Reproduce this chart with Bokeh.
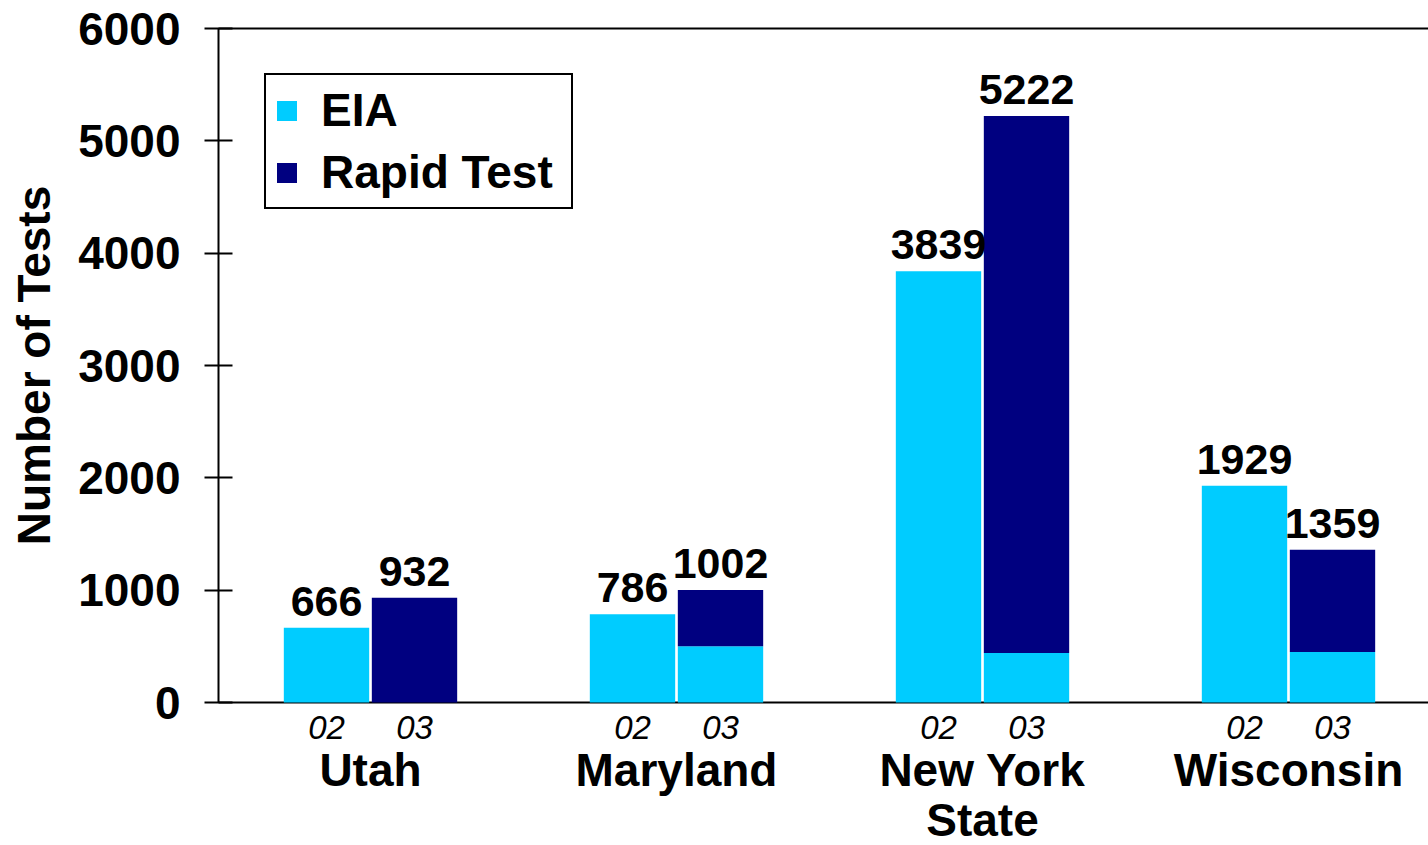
import math
from bokeh.plotting import figure
from bokeh.models import Range1d, Legend, LegendItem, ColumnDataSource, FixedTicker
from bokeh.core.properties import value
from bokeh.embed import file_html
from bokeh.resources import INLINE

# ---- data ----
states = ["Utah", "Maryland", "New York State", "Wisconsin"]
state_lines = [["Utah"], ["Maryland"], ["New York", "State"], ["Wisconsin"]]
years = ["02", "03"]
eia_2002 = [666, 786, 3839, 1929]
eia_2003 = [0, 500, 440, 450]
total_2003 = [932, 1002, 5222, 1359]
rapid_2003 = [t - e for t, e in zip(total_2003, eia_2003)]
y_ticks = [0, 1000, 2000, 3000, 4000, 5000, 6000]
y_max = 6000

LIGHT = "#00CCFF"
NAVY = "#000080"
FONT = "Liberation Sans"

# ---- layout geometry (pixels) ----
W_PX, H_PX = 1428, 845
LEFT, TOP, BOTTOM = 218, 28, 702      # plotting area edges
SLOT = 88.0                            # one bar slot in px
G = 306 / SLOT                         # group pitch in slot units
x_axis = -152 / SLOT                   # data x at the y-axis
ppu = (BOTTOM - TOP) / y_max           # px per unit of y

x_lo = x_axis - LEFT / SLOT
x_hi = x_lo + W_PX / SLOT
y_hi = y_max + TOP / ppu
y_lo = -(H_PX - BOTTOM) / ppu

centers = [i * G for i in range(len(states))]
x02 = [c - 0.5 for c in centers]
x03 = [c + 0.5 for c in centers]

p = figure(width=W_PX, height=H_PX, output_backend="svg", toolbar_location=None,
           x_range=Range1d(x_lo, x_hi), y_range=Range1d(y_lo, y_hi),
           min_border=0)
p.outline_line_color = None
p.xgrid.visible = False
p.ygrid.visible = False
p.xaxis.visible = False

# frame lines (top and bottom)
p.segment(x0=[x_axis, x_axis], y0=[0, y_max], x1=[x_hi, x_hi], y1=[0, y_max],
          line_color="black", line_width=2)

BW = 0.97
src_eia = ColumnDataSource(dict(x=x02 + x03, top=eia_2002 + eia_2003, bottom=[0] * 8))
src_rapid = ColumnDataSource(dict(x=x03, top=total_2003, bottom=eia_2003))
r_eia = p.vbar(x="x", top="top", bottom="bottom", width=BW, source=src_eia,
               fill_color=LIGHT, line_color=None)
r_rapid = p.vbar(x="x", top="top", bottom="bottom", width=BW, source=src_rapid,
                 fill_color=NAVY, line_color=None)

# value labels
src_lab = ColumnDataSource(dict(x=x02 + x03, y=eia_2002 + total_2003,
                                t=[str(v) for v in eia_2002 + total_2003]))
p.text(x="x", y="y", text="t", source=src_lab, text_align="center", text_baseline="bottom",
       y_offset=-12, text_font=value(FONT), text_font_style="bold", text_font_size="43px",
       text_color="black")

# y axis fixed at the left edge of the plotting area
ya = p.yaxis[0]
ya.fixed_location = x_axis
ya.bounds = (0, y_max)
ya.ticker = FixedTicker(ticks=y_ticks)
ya.minor_tick_line_color = None
ya.major_tick_in = 14
ya.major_tick_out = 14
ya.major_tick_line_width = 2
ya.axis_line_width = 2
ya.major_label_standoff = 24
ya.major_label_text_font = FONT
ya.major_label_text_font_style = "bold"
ya.major_label_text_font_size = "46px"
ya.major_label_text_color = "black"

# y axis title
p.text(x=[x_axis - (LEFT - 33) / SLOT], y=[y_max / 2], text=["Number of Tests"], angle=math.pi / 2,
       text_align="center", text_baseline="middle", text_font=value(FONT),
       text_font_style="bold", text_font_size="46px", text_color="black")

# category labels under the axis
p.text(x=x02 + x03, y=[0] * 8, text=[years[0]] * 4 + [years[1]] * 4, y_offset=25,
       text_align="center", text_baseline="middle", text_font=value(FONT),
       text_font_style="italic", text_font_size="33px", text_color="black")
sx, sy_off, st = [], [], []
for c, lines in zip(centers, state_lines):
    for k, line in enumerate(lines):
        sx.append(c)
        sy_off.append(67 + 50 * k)
        st.append(line)
src_states = ColumnDataSource(dict(x=sx, y=[0] * len(sx), off=sy_off, t=st))
p.text(x="x", y="y", text="t", y_offset="off", source=src_states,
       text_align="center", text_baseline="middle", text_font=value(FONT),
       text_font_style="bold", text_font_size="46px", text_color="black")

legend = Legend(items=[LegendItem(label="EIA", renderers=[r_eia]),
                       LegendItem(label="Rapid Test", renderers=[r_rapid])],
                location=(264, H_PX - 209))
legend.label_text_font = FONT
legend.label_text_font_style = "bold"
legend.label_text_font_size = "46px"
legend.label_text_color = "black"
legend.glyph_width = 25
legend.glyph_height = 25
legend.label_standoff = 22
legend.label_width = 242
legend.padding = 8
legend.spacing = 8
legend.border_line_color = "black"
legend.border_line_alpha = 1
legend.border_line_width = 2
legend.background_fill_alpha = 1
legend.margin = 0
p.add_layout(legend)

open("out.html", "w").write(file_html(p, INLINE))
